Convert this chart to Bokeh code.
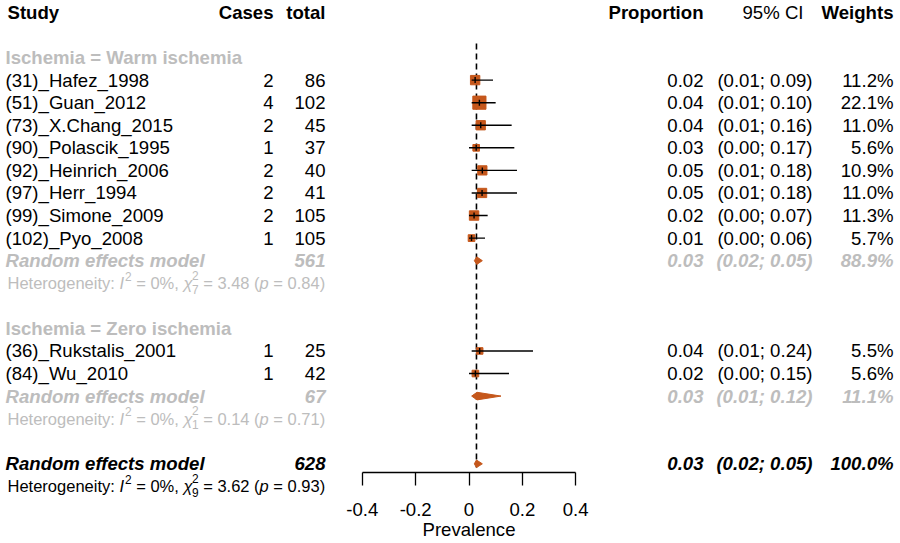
import math
from bokeh.plotting import figure
from bokeh.models import Range1d, LinearAxis, FixedTicker
from bokeh.core.properties import value
from bokeh.embed import file_html
from bokeh.resources import INLINE

# ---------------- data ----------------
studies = ["(31)_Hafez_1998", "(51)_Guan_2012", "(73)_X.Chang_2015", "(90)_Polascik_1995",
           "(92)_Heinrich_2006", "(97)_Herr_1994", "(99)_Simone_2009", "(102)_Pyo_2008",
           "(36)_Rukstalis_2001", "(84)_Wu_2010"]
study_group = [0, 0, 0, 0, 0, 0, 0, 0, 1, 1]
cases = [2, 4, 2, 1, 2, 2, 2, 1, 1, 1]
totals = [86, 102, 45, 37, 40, 41, 105, 105, 25, 42]
proportion = [0.023, 0.039, 0.044, 0.027, 0.050, 0.049, 0.019, 0.0095, 0.040, 0.024]
ci_low = [0.01, 0.01, 0.01, 0.00, 0.01, 0.01, 0.00, 0.00, 0.01, 0.00]
ci_high = [0.09, 0.10, 0.16, 0.17, 0.18, 0.18, 0.07, 0.06, 0.24, 0.15]
weights = [11.2, 22.1, 11.0, 5.6, 10.9, 11.0, 11.3, 5.7, 5.5, 5.6]

group_labels = ["Ischemia = Warm ischemia", "Ischemia = Zero ischemia"]
group_n = [561, 67]
group_est = [0.029, 0.030]
group_low = [0.02, 0.01]
group_high = [0.05, 0.12]
group_weight = [88.9, 11.1]

overall_label = "Random effects model"
overall_n = 628
overall_est = 0.028
overall_low = 0.02
overall_high = 0.05
overall_weight = 100.0

het_I2 = [0, 0, 0]
het_df = [7, 1, 9]
het_Q = [3.48, 0.14, 3.62]
het_p = [0.84, 0.71, 0.93]

tick_values = [-0.4, -0.2, 0, 0.2, 0.4]
tick_labels = ["-0.4", "-0.2", "0", "0.2", "0.4"]
x_title = "Prevalence"

# ---------------- styling / layout ----------------
FONT = "Liberation Sans"
MAIN = "18.6px"
HET_PX = 16.5
GRAY = "#bdbdbd"
BROWN = "#c5571b"
W, H = 899, 542
ROW_PX = 22.57      # pixels per table row
TOP_OFF = 11.9      # pixel centre of row 0
ZERO_PX = 468.5     # pixel of value 0 on the forest scale
SCALE = 266.6       # pixels per unit of prevalence


def px(xpix):
    """convert a horizontal pixel position into forest-scale data units"""
    return (xpix - ZERO_PX) / SCALE


# row assignment
group_row, group_sum_row, group_het_row = [], [], []
study_rows = [0] * len(studies)
r = 2
for g in range(len(group_labels)):
    group_row.append(r)
    r += 1
    for i, sg in enumerate(study_group):
        if sg == g:
            study_rows[i] = r
            r += 1
    group_sum_row.append(r)
    group_het_row.append(r + 1)
    r += 3
overall_row = r
overall_het_row = r + 1

p = figure(width=W, height=H, x_range=Range1d(px(0), px(W)),
           y_range=Range1d((H - TOP_OFF) / ROW_PX, -TOP_OFF / ROW_PX),
           output_backend="svg", toolbar_location=None, min_border=0,
           x_axis_type=None, y_axis_type=None, outline_line_color=None,
           background_fill_color="white", border_fill_color="white")


def txt(xs_pix, ys, texts, align, color="black", style="normal", size=MAIN):
    p.text(x=[px(v) for v in xs_pix], y=ys, text=texts, text_align=align, text_baseline="middle",
           text_color=color, text_font=value(FONT), text_font_style=style,
           text_font_size=size)


# ---- left columns ----
X_STUDY, X_CASES, X_TOTAL = 5, 273, 325
n = len(studies)
txt([X_STUDY + 2], [0], ["Study"], "left", style="bold")
txt([X_CASES, X_TOTAL], [0, 0], ["Cases", "total"], "right", style="bold")
txt([X_STUDY] * 2, group_row, group_labels, "left", GRAY, "bold")
txt([X_STUDY] * n, study_rows, studies, "left")
txt([X_CASES] * n, study_rows, [str(c) for c in cases], "right")
txt([X_TOTAL] * n, study_rows, [str(t) for t in totals], "right")
txt([X_STUDY] * 2, group_sum_row, [overall_label] * 2, "left", GRAY, "bold italic")
txt([X_TOTAL] * 2, group_sum_row, [str(v) for v in group_n], "right", GRAY, "bold italic")
txt([X_STUDY], [overall_row], [overall_label], "left", "black", "bold italic")
txt([X_TOTAL], [overall_row], [str(overall_n)], "right", "black", "bold italic")

# heterogeneity lines built from pieces (sub/superscripts)
CW = {' ': .278, '(': .333, ')': .333, '%': .889, ',': .278, '.': .278, ':': .278,
      '=': .584, 'H': .722, 'I': .278, 'e': .556, 'g': .556, 'i': .222, 'n': .556,
      'o': .556, 'p': .556, 'r': .333, 't': .278, 'y': .5, 'χ': .52}


def tw(s, size):
    return sum(CW.get(c, .556) for c in s) * size


def het_line(x0, rr, I2, df, Q, pv, color):
    fs = HET_PX
    ss = fs * 0.72
    state = {"x": x0}

    def put(s, style="normal", size=fs, dy=0.0, adv=True):
        txt([state["x"]], [rr + dy / ROW_PX], [s], "left", color, style, f"{size:.1f}px")
        if adv:
            state["x"] += tw(s, size)

    sp = tw(" ", fs)
    put("Heterogeneity:")
    state["x"] += sp
    put("I", "italic")
    state["x"] += 1
    put("2", size=ss, dy=-7)
    state["x"] += sp
    put(f"= {I2:.0f}%,")
    state["x"] += sp
    put("χ", "italic")
    put("2", size=ss, dy=-8, adv=False)
    put(str(df), size=ss, dy=6)
    state["x"] += sp
    put(f"= {Q:.2f} (")
    put("p", "italic")
    state["x"] += sp
    put(f"= {pv:.2f})")


for k in range(2):
    het_line(X_STUDY + 2, group_het_row[k], het_I2[k], het_df[k], het_Q[k], het_p[k], GRAY)
het_line(X_STUDY + 2, overall_het_row, het_I2[2], het_df[2], het_Q[2], het_p[2], "black")

# ---- right columns ----
X_PROP, X_CI, X_W = 703, 812, 893
txt([X_PROP, X_W], [0, 0], ["Proportion", "Weights"], "right", style="bold")
txt([803], [0], ["95% CI"], "right")
fmt_ci = lambda a, b: f"({a:.2f}; {b:.2f})"
txt([X_PROP] * n, study_rows, [f"{v:.2f}" for v in proportion], "right")
txt([X_CI] * n, study_rows, [fmt_ci(a, b) for a, b in zip(ci_low, ci_high)], "right")
txt([X_W] * n, study_rows, [f"{w:.1f}%" for w in weights], "right")
txt([X_PROP] * 2, group_sum_row, [f"{v:.2f}" for v in group_est], "right", GRAY, "bold italic")
txt([X_CI] * 2, group_sum_row, [fmt_ci(a, b) for a, b in zip(group_low, group_high)], "right", GRAY, "bold italic")
txt([X_W] * 2, group_sum_row, [f"{w:.1f}%" for w in group_weight], "right", GRAY, "bold italic")
txt([X_PROP], [overall_row], [f"{overall_est:.2f}"], "right", "black", "bold italic")
txt([X_CI], [overall_row], [fmt_ci(overall_low, overall_high)], "right", "black", "bold italic")
txt([X_W], [overall_row], [f"{overall_weight:.1f}%"], "right", "black", "bold italic")

# ---- forest ----
p.segment(x0=[overall_est], y0=[1.38], x1=[overall_est], y1=[20.16],
          line_color="black", line_width=1.6, line_dash="6 4")
p.scatter(x=proportion, y=study_rows, size=[2.8 * math.sqrt(w) for w in weights],
          marker="square", fill_color=BROWN, line_color=BROWN, line_width=1)
p.segment(x0=ci_low, y0=study_rows, x1=ci_high, y1=study_rows, line_color="black", line_width=1.4)
hh = 3.0 / ROW_PX
p.segment(x0=proportion, y0=[s - hh for s in study_rows], x1=proportion,
          y1=[s + hh for s in study_rows], line_color="black", line_width=1.4)
dh = 3.8 / ROW_PX
d_est = group_est + [overall_est]
d_low = group_low + [overall_low]
d_high = group_high + [overall_high]
d_row = group_sum_row + [overall_row]
p.patches(xs=[[a, e, b, e] for a, e, b in zip(d_low, d_est, d_high)],
          ys=[[rr, rr - dh, rr, rr + dh] for rr in d_row],
          fill_color=BROWN, line_color=BROWN, line_width=1)

AXIS_ROW = (472.3 - TOP_OFF) / ROW_PX
ax = LinearAxis(ticker=FixedTicker(ticks=tick_values), bounds=(tick_values[0], tick_values[-1]),
                fixed_location=AXIS_ROW,
                major_label_overrides=dict(zip(tick_values, tick_labels)),
                axis_label=x_title, major_tick_in=0, major_tick_out=13,
                minor_tick_in=0, minor_tick_out=0, axis_line_width=1.3,
                major_tick_line_width=1.3, major_label_standoff=17, axis_label_standoff=0,
                major_label_text_font=FONT, major_label_text_font_size=MAIN,
                axis_label_text_font=FONT, axis_label_text_font_size=MAIN,
                axis_label_text_font_style="normal", major_label_text_color="black",
                axis_label_text_color="black")
p.add_layout(ax, "below")

open("out.html", "w").write(file_html(p, INLINE))
